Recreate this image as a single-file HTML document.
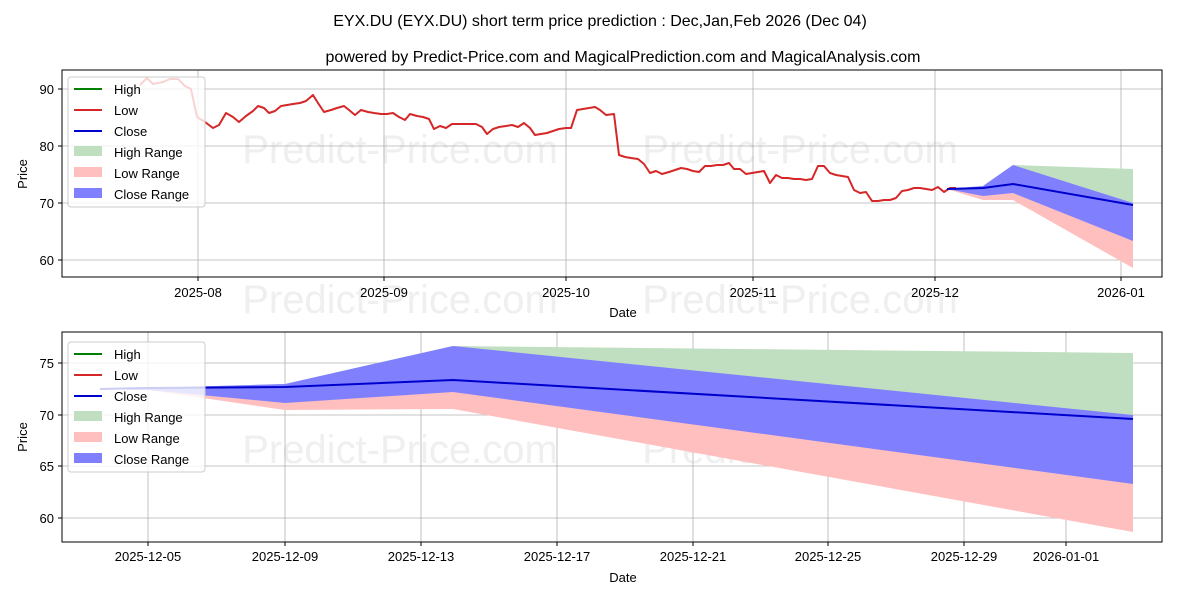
<!DOCTYPE html>
<html><head><meta charset="utf-8"><style>
body{margin:0;background:#fff;}
svg text{font-family:"Liberation Sans","DejaVu Sans",sans-serif;}
</style></head><body>
<svg width="1200" height="600" xmlns="http://www.w3.org/2000/svg">
<rect width="1200" height="600" fill="#fff"/>
<text x="600" y="26" font-size="16" text-anchor="middle">EYX.DU (EYX.DU) short term price prediction : Dec,Jan,Feb 2026 (Dec 04)</text>
<text x="623" y="62" font-size="16" text-anchor="middle">powered by Predict-Price.com and MagicalPrediction.com and MagicalAnalysis.com</text>

<g font-size="40" fill="#efefef" text-anchor="middle">
<text x="400" y="163">Predict-Price.com</text><text x="800" y="163">Predict-Price.com</text>
<text x="400" y="313">Predict-Price.com</text><text x="800" y="313">Predict-Price.com</text>
<text x="400" y="463">Predict-Price.com</text><text x="800" y="463">Predict-Price.com</text>
</g>
<g stroke="#b0b0b0" stroke-width="0.8">
<line x1="198" y1="70" x2="198" y2="277"/><line x1="384" y1="70" x2="384" y2="277"/><line x1="566" y1="70" x2="566" y2="277"/><line x1="753" y1="70" x2="753" y2="277"/><line x1="935" y1="70" x2="935" y2="277"/><line x1="1121" y1="70" x2="1121" y2="277"/>
<line x1="62" y1="89" x2="1162" y2="89"/><line x1="62" y1="146" x2="1162" y2="146"/><line x1="62" y1="203" x2="1162" y2="203"/><line x1="62" y1="260" x2="1162" y2="260"/>
</g>
<polygon points="947,189 983,186 1013,165 1133,169 1133,205 1013,184 983,188" fill="#c0dfc0"/>
<polygon points="947,189 983,188 1013,184 1133,205 1133,268 1013,200 983,200" fill="#ffbfbf"/>
<polygon points="947,189 983,186 1013,165 1133,203 1133,241 1013,193 983,196" fill="#8080ff"/>
<polyline fill="none" stroke="#d62728" stroke-width="2" stroke-linejoin="round" points="140,85 147,78 153,84 163,82 170,79 178,79 185,86 191,89 197,117 205,122 213,128 219,125 226,113 233,117 239,122 246,116 253,111 258,106 264,108 269,113 275,111 281,106 287,105 293,104 300,103 306,101 313,95 318,103 324,112 331,110 337,108 344,106 349,110 355,115 361,110 368,112 374,113 381,114 387,114 393,113 399,117 405,120 410,114 417,116 423,117 429,119 434,129 440,126 446,128 452,124 458,124 464,124 470,124 476,124 482,127 487,134 493,129 499,127 506,126 512,125 518,127 524,123 530,128 535,135 541,134 547,133 553,131 559,129 566,128 571,128 577,110 583,109 589,108 595,107 600,110 606,115 614,114 619,155 625,157 631,158 638,159 644,164 650,173 656,171 662,174 669,172 675,170 681,168 687,169 693,171 699,172 705,166 711,166 717,165 723,165 729,163 734,169 740,169 746,174 752,173 758,172 764,171 770,183 776,175 782,178 788,178 794,179 800,179 806,180 812,179 818,166 824,166 830,173 836,175 842,176 848,177 854,190 860,193 866,192 872,201 878,201 884,200 890,200 896,198 902,191 908,190 914,188 920,188 926,189 932,190 938,187 944,192 950,188 956,188"/>
<polyline fill="none" stroke="#0000cc" stroke-width="2" points="947,189 983,188 1013,184 1133,205"/>
<rect x="62" y="70" width="1100" height="207" fill="none" stroke="#000" stroke-width="1"/>
<g font-size="13" text-anchor="end">
<text x="54" y="94">90</text><text x="54" y="151">80</text><text x="54" y="208">70</text><text x="54" y="265">60</text>
</g>
<g stroke="#000"><line x1="58" y1="89" x2="62" y2="89"/><line x1="58" y1="146" x2="62" y2="146"/><line x1="58" y1="203" x2="62" y2="203"/><line x1="58" y1="260" x2="62" y2="260"/>
<line x1="198" y1="277" x2="198" y2="281"/><line x1="384" y1="277" x2="384" y2="281"/><line x1="566" y1="277" x2="566" y2="281"/><line x1="753" y1="277" x2="753" y2="281"/><line x1="935" y1="277" x2="935" y2="281"/><line x1="1121" y1="277" x2="1121" y2="281"/></g>
<g font-size="13" text-anchor="middle">
<text x="198" y="297">2025-08</text><text x="384" y="297">2025-09</text><text x="566" y="297">2025-10</text><text x="753" y="297">2025-11</text><text x="935" y="297">2025-12</text><text x="1121" y="297">2026-01</text>
<text x="623" y="317">Date</text>
</g>
<text x="27" y="174" font-size="13" text-anchor="middle" transform="rotate(-90 27 174)">Price</text>
<g font-size="13">
<rect x="68" y="77" width="137" height="130" rx="3" fill="#fff" fill-opacity="0.8" stroke="#ccc"/>
<line x1="74" y1="89" x2="102" y2="89" stroke="green" stroke-width="2"/><text x="114" y="94">High</text>
<line x1="74" y1="110" x2="102" y2="110" stroke="#d62728" stroke-width="2"/><text x="114" y="115">Low</text>
<line x1="74" y1="131" x2="102" y2="131" stroke="#0000cc" stroke-width="2"/><text x="114" y="136">Close</text>
<rect x="74" y="146" width="28" height="10" fill="#c0dfc0"/><text x="114" y="157">High Range</text>
<rect x="74" y="167" width="28" height="10" fill="#ffbfbf"/><text x="114" y="178">Low Range</text>
<rect x="74" y="188" width="28" height="10" fill="#8080ff"/><text x="114" y="199">Close Range</text>
</g>

<g stroke="#b0b0b0" stroke-width="0.8">
<line x1="148" y1="332" x2="148" y2="542"/><line x1="285" y1="332" x2="285" y2="542"/><line x1="421" y1="332" x2="421" y2="542"/><line x1="557" y1="332" x2="557" y2="542"/><line x1="693" y1="332" x2="693" y2="542"/><line x1="828" y1="332" x2="828" y2="542"/><line x1="964" y1="332" x2="964" y2="542"/><line x1="1066" y1="332" x2="1066" y2="542"/>
<line x1="62" y1="363" x2="1162" y2="363"/><line x1="62" y1="415" x2="1162" y2="415"/><line x1="62" y1="466" x2="1162" y2="466"/><line x1="62" y1="518" x2="1162" y2="518"/>
</g>
<polygon points="100,389 148,388 285,384 453,346 1133,353 1133,419 453,380 285,387 148,388" fill="#c0dfc0"/>
<polygon points="100,389 148,390 285,410 453,409 1133,532 1133,419 453,380 285,387 148,388" fill="#ffbfbf"/>
<polygon points="100,389 148,388 285,384 453,346 1133,415 1133,484 453,392 285,403 148,390" fill="#8080ff"/>
<polyline fill="none" stroke="#0000cc" stroke-width="2" points="100,389 148,388 285,387 453,380 1133,419"/>
<rect x="62" y="332" width="1100" height="210" fill="none" stroke="#000" stroke-width="1"/>
<g font-size="13" text-anchor="end">
<text x="54" y="368">75</text><text x="54" y="420">70</text><text x="54" y="471">65</text><text x="54" y="523">60</text>
</g>
<g stroke="#000"><line x1="58" y1="363" x2="62" y2="363"/><line x1="58" y1="415" x2="62" y2="415"/><line x1="58" y1="466" x2="62" y2="466"/><line x1="58" y1="518" x2="62" y2="518"/>
<line x1="148" y1="542" x2="148" y2="546"/><line x1="285" y1="542" x2="285" y2="546"/><line x1="421" y1="542" x2="421" y2="546"/><line x1="557" y1="542" x2="557" y2="546"/><line x1="693" y1="542" x2="693" y2="546"/><line x1="828" y1="542" x2="828" y2="546"/><line x1="964" y1="542" x2="964" y2="546"/><line x1="1066" y1="542" x2="1066" y2="546"/></g>
<g font-size="13" text-anchor="middle">
<text x="148" y="561">2025-12-05</text><text x="285" y="561">2025-12-09</text><text x="421" y="561">2025-12-13</text><text x="557" y="561">2025-12-17</text><text x="693" y="561">2025-12-21</text><text x="828" y="561">2025-12-25</text><text x="964" y="561">2025-12-29</text><text x="1066" y="561">2026-01-01</text>
<text x="623" y="582">Date</text>
</g>
<text x="27" y="437" font-size="13" text-anchor="middle" transform="rotate(-90 27 437)">Price</text>
<g font-size="13">
<rect x="68" y="342" width="137" height="130" rx="3" fill="#fff" fill-opacity="0.8" stroke="#ccc"/>
<line x1="74" y1="354" x2="102" y2="354" stroke="green" stroke-width="2"/><text x="114" y="359">High</text>
<line x1="74" y1="375" x2="102" y2="375" stroke="#d62728" stroke-width="2"/><text x="114" y="380">Low</text>
<line x1="74" y1="396" x2="102" y2="396" stroke="#0000cc" stroke-width="2"/><text x="114" y="401">Close</text>
<rect x="74" y="411" width="28" height="10" fill="#c0dfc0"/><text x="114" y="422">High Range</text>
<rect x="74" y="432" width="28" height="10" fill="#ffbfbf"/><text x="114" y="443">Low Range</text>
<rect x="74" y="453" width="28" height="10" fill="#8080ff"/><text x="114" y="464">Close Range</text>
</g>
</svg>
</body></html>
